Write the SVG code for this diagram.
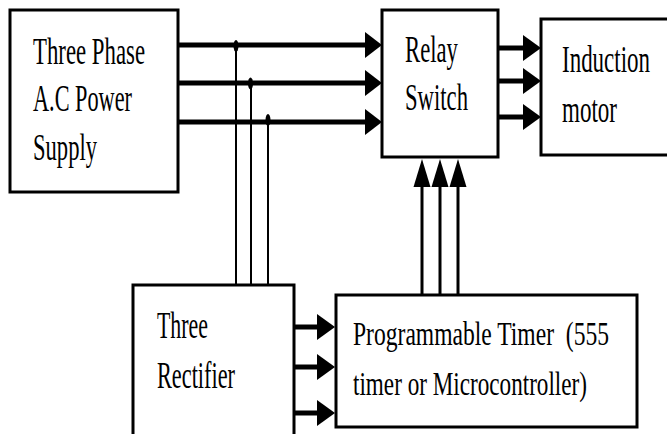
<svg xmlns="http://www.w3.org/2000/svg" width="667" height="434" viewBox="0 0 667 434">
<style>
.box{fill:#fff;stroke:#000;stroke-width:3}
.t{font-family:"Liberation Serif","Times New Roman",serif;fill:#000}
.thick{stroke:#000;stroke-width:5;fill:none}
.thin{stroke:#000;stroke-width:2;fill:none}
.mid{stroke:#000;stroke-width:3;fill:none}
.head{fill:#000}
</style>
<rect width="667" height="434" fill="#fff"/>
<g id="connectors">
  <line class="thick" x1="178" y1="45" x2="367" y2="45"/>
  <line class="thick" x1="178" y1="83" x2="367" y2="83"/>
  <line class="thick" x1="178" y1="122" x2="367" y2="122"/>
  <polygon class="head" points="365,32 382,45 365,58"/>
  <polygon class="head" points="365,70 382,83 365,96"/>
  <polygon class="head" points="365,109 382,122 365,135"/>
  <line class="thin" x1="236" y1="46" x2="236" y2="286"/>
  <line class="thin" x1="251" y1="84" x2="251" y2="286"/>
  <line class="thin" x1="268" y1="121" x2="268" y2="286"/>
  <ellipse class="head" cx="236" cy="46" rx="2.5" ry="6"/>
  <ellipse class="head" cx="250.5" cy="83.5" rx="2.5" ry="6"/>
  <ellipse class="head" cx="268" cy="120" rx="2.5" ry="6"/>
  <line class="thick" x1="498" y1="48" x2="525" y2="48"/>
  <line class="thick" x1="498" y1="81" x2="525" y2="81"/>
  <line class="thick" x1="498" y1="117" x2="525" y2="117"/>
  <polygon class="head" points="523,35 541,48 523,61"/>
  <polygon class="head" points="523,68 541,81 523,94"/>
  <polygon class="head" points="523,104 541,117 523,130"/>
  <line class="thick" x1="294" y1="327" x2="319" y2="327"/>
  <line class="thick" x1="294" y1="367" x2="319" y2="367"/>
  <line class="thick" x1="294" y1="413" x2="319" y2="413"/>
  <polygon class="head" points="317,314 335,327 317,340"/>
  <polygon class="head" points="317,354 335,367 317,380"/>
  <polygon class="head" points="317,400 335,413 317,426"/>
  <line class="mid" x1="422" y1="295" x2="422" y2="184"/>
  <line class="mid" x1="440" y1="295" x2="440" y2="184"/>
  <line class="mid" x1="458" y1="295" x2="458" y2="184"/>
  <polygon class="head" points="413.5,187 422,159 430.5,187"/>
  <polygon class="head" points="431.5,187 440,159 448.5,187"/>
  <polygon class="head" points="449.5,187 458,159 466.5,187"/>
</g>
<g id="power-supply">
  <rect class="box" x="10" y="10" width="168" height="182"/>
  <text class="t" font-size="38" transform="translate(33,64) scale(0.6,1)" textLength="186.7" lengthAdjust="spacingAndGlyphs">Three Phase</text>
  <text class="t" font-size="38" transform="translate(33,111) scale(0.6,1)" textLength="165" lengthAdjust="spacingAndGlyphs">A.C Power</text>
  <text class="t" font-size="38" transform="translate(33,160) scale(0.6,1)" textLength="106.7" lengthAdjust="spacingAndGlyphs">Supply</text>
</g>
<g id="relay-switch">
  <rect class="box" x="382" y="10" width="116" height="147"/>
  <text class="t" font-size="38" transform="translate(405,62) scale(0.6,1)" textLength="88.3" lengthAdjust="spacingAndGlyphs">Relay</text>
  <text class="t" font-size="38" transform="translate(405,110) scale(0.6,1)" textLength="105" lengthAdjust="spacingAndGlyphs">Switch</text>
</g>
<g id="induction-motor">
  <rect class="box" x="541" y="19" width="140" height="136"/>
  <text class="t" font-size="38" transform="translate(562,72) scale(0.6,1)" textLength="146.7" lengthAdjust="spacingAndGlyphs">Induction</text>
  <text class="t" font-size="38" transform="translate(562,122) scale(0.6,1)" textLength="91.7" lengthAdjust="spacingAndGlyphs">motor</text>
</g>
<g id="rectifier">
  <rect class="box" x="133" y="285" width="161" height="170"/>
  <text class="t" font-size="37" transform="translate(157,338) scale(0.6,1)" textLength="85" lengthAdjust="spacingAndGlyphs">Three</text>
  <text class="t" font-size="37" transform="translate(157,388) scale(0.6,1)" textLength="130" lengthAdjust="spacingAndGlyphs">Rectifier</text>
</g>
<g id="timer">
  <rect class="box" x="336" y="295" width="301" height="132"/>
  <text class="t" font-size="33" transform="translate(353,345) scale(0.6,1)" textLength="426.7" lengthAdjust="spacingAndGlyphs" xml:space="preserve">Programmable Timer  (555</text>
  <text class="t" font-size="33" transform="translate(353,395) scale(0.6,1)" textLength="390" lengthAdjust="spacingAndGlyphs">timer or Microcontroller)</text>
</g>
</svg>
